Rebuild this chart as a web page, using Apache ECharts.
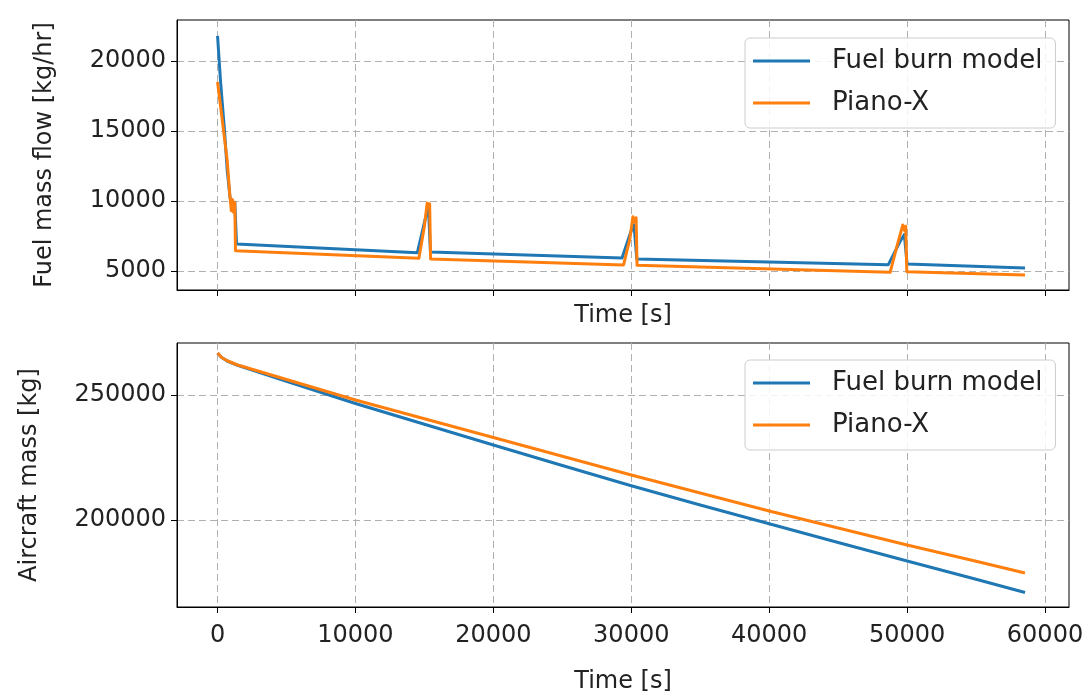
<!DOCTYPE html>
<html>
<head>
<meta charset="utf-8">
<script src="https://cdn.jsdelivr.net/npm/echarts@6/dist/echarts.min.js"></script>
<style>
html,body{margin:0;padding:0;background:#fff;}
#chart{width:1091px;height:697px;}
</style>
</head>
<body>
<div id="chart"></div>
<script>
// ---- data ----
const seriesNames = ['Fuel burn model', 'Piano-X'];
const timeTicks = [0, 10000, 20000, 30000, 40000, 50000, 60000];
const flowTicks = [5000, 10000, 15000, 20000];
const massTicks = [200000, 250000];

// Fuel mass flow [kg/hr]
const flowTimeModel = [0, 220, 500, 700, 900, 1000, 1100, 1250, 1380, 14490, 15100, 15300, 15435, 29330, 29930, 30200, 30400, 48640, 49490, 49800, 50000, 58550];
const flowModel     = [21800, 18500, 15100, 12200, 10300, 9800, 9700, 9900, 6930, 6310, 8880, 9400, 6360, 5930, 7700, 8300, 5850, 5450, 7100, 7600, 5500, 5210];
const flowTimePiano = [0, 340, 700, 900, 1000, 1080, 1150, 1250, 1300, 14600, 15000, 15200, 15300, 15380, 15450, 29440, 29900, 30120, 30250, 30350, 30420, 48770, 49300, 49690, 49800, 49900, 49980, 58550];
const flowPiano     = [18500, 15800, 12900, 10300, 9300, 10100, 9200, 9900, 6450, 5900, 8200, 9850, 9600, 9800, 5860, 5430, 7300, 8880, 8500, 8800, 5400, 4900, 6900, 8290, 7900, 8200, 4950, 4710];

// Aircraft mass [kg]
const massTime  = [0, 300, 700, 1400, 5000, 10000, 15000, 20000, 25000, 30000, 35000, 40000, 45000, 50000, 55000, 58550];
const massModel = [266800, 265000, 263600, 262000, 255500, 246600, 238300, 230000, 221800, 213700, 206000, 198500, 191000, 183600, 176300, 171000];
const massPiano = [266800, 265000, 263700, 262100, 256200, 248000, 240500, 233000, 225500, 218000, 210800, 203600, 196800, 190000, 183500, 178800];

// ---- chart ----
const BLUE = '#1f77b4', ORANGE = '#ff7f0e';
const FONT = 'DejaVu Sans';
const FS = 24;
const LFS = 26;
const TXT = '#222';
const zip = (a, b) => a.map((t, i) => [t, b[i]]);

function xAxisCfg(gi, showLabels, nameGap) {
  return {
    type: 'value', gridIndex: gi, min: -2940, max: 61740,
    name: 'Time [s]', nameLocation: 'middle', nameGap: nameGap,
    nameTextStyle: {fontFamily: FONT, fontSize: FS, color: TXT},
    axisLine: {show: true, onZero: false, lineStyle: {color: '#000', width: 1}},
    axisTick: {show: true, inside: false, length: 6, customValues: timeTicks, lineStyle: {color: '#000'}},
    axisLabel: {show: showLabels, customValues: timeTicks, fontFamily: FONT, fontSize: FS, color: TXT, margin: 17, formatter: v => String(v)},
    splitLine: {show: true, lineStyle: {color: '#b0b0b0', type: [7, 4], width: 1}}
  };
}
function yAxisCfg(gi, min, max, ticks, name, nameGap) {
  return {
    type: 'value', gridIndex: gi, min: min, max: max,
    name: name, nameLocation: 'middle', nameGap: nameGap, nameRotate: 90,
    nameTextStyle: {fontFamily: FONT, fontSize: FS, color: TXT},
    axisLine: {show: true, onZero: false, lineStyle: {color: '#000', width: 1}},
    axisTick: {show: true, inside: false, length: 6, customValues: ticks, lineStyle: {color: '#000'}},
    axisLabel: {show: true, customValues: ticks, fontFamily: FONT, fontSize: FS, color: TXT, margin: 11, formatter: v => String(v)},
    splitLine: {show: true, lineStyle: {color: '#b0b0b0', type: [7, 4], width: 1}}
  };
}
function legendCfg(top) {
  return {
    data: seriesNames, orient: 'vertical', left: 745, top: top,
    padding: [10, 13, 12, 8], itemGap: 16, itemWidth: 57, itemHeight: 3, icon: 'rect',
    backgroundColor: 'rgba(255,255,255,0.85)', borderColor: '#cccccc', borderWidth: 1, borderRadius: 5,
    textStyle: {fontFamily: FONT, fontSize: LFS, color: TXT, padding: [0, 0, 0, 17]}
  };
}
function lineSeries(name, color, xi, data) {
  return {
    name: name, type: 'line', xAxisIndex: xi, yAxisIndex: xi, data: data,
    symbol: 'none', showSymbol: false, color: color,
    lineStyle: {width: 3, color: color, join: 'round'}, emphasis: {disabled: true}
  };
}

const chart = echarts.init(document.getElementById('chart'), null, {renderer: 'canvas'});
chart.setOption({
  animation: false,
  backgroundColor: '#fff',
  grid: [
    {left: 177, top: 20, width: 892, height: 270, show: true, borderColor: '#000', borderWidth: 1, backgroundColor: 'transparent'},
    {left: 177, top: 343, width: 892, height: 264, show: true, borderColor: '#000', borderWidth: 1, backgroundColor: 'transparent'}
  ],
  legend: [legendCfg(38), legendCfg(360)],
  xAxis: [xAxisCfg(0, false, 14), xAxisCfg(1, true, 63)],
  yAxis: [
    yAxisCfg(0, 3640, 22930, flowTicks, 'Fuel mass flow [kg/hr]', 120),
    yAxisCfg(1, 165200, 270800, massTicks, 'Aircraft mass [kg]', 135)
  ],
  series: [
    lineSeries(seriesNames[0], BLUE, 0, zip(flowTimeModel, flowModel)),
    lineSeries(seriesNames[1], ORANGE, 0, zip(flowTimePiano, flowPiano)),
    lineSeries(seriesNames[0], BLUE, 1, zip(massTime, massModel)),
    lineSeries(seriesNames[1], ORANGE, 1, zip(massTime, massPiano))
  ]
});
</script>
</body>
</html>
